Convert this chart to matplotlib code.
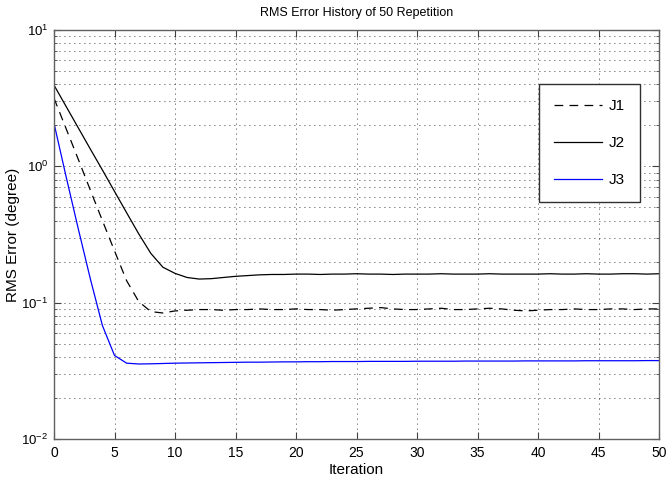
import numpy as np
import matplotlib
matplotlib.use('Agg')
import matplotlib.pyplot as plt
from matplotlib.ticker import LogLocator, NullFormatter

plt.rcParams['font.family'] = ['Liberation Sans', 'DejaVu Sans']
plt.rcParams['mathtext.fontset'] = 'custom'
plt.rcParams['mathtext.rm'] = 'Liberation Sans'

# data (RMS error per iteration)
iteration = list(range(51))
J1 = [3.16, 1.89, 1.13, 0.67, 0.40, 0.24, 0.145, 0.102, 0.086, 0.084,
      0.087, 0.088, 0.089, 0.089, 0.088, 0.089, 0.089, 0.090, 0.089, 0.089,
      0.090, 0.089, 0.089, 0.088, 0.089, 0.090, 0.091, 0.092, 0.090, 0.089,
      0.089, 0.090, 0.091, 0.089, 0.089, 0.090, 0.091, 0.090, 0.088, 0.087,
      0.088, 0.089, 0.089, 0.090, 0.089, 0.089, 0.090, 0.090, 0.089, 0.090,
      0.090]
J2 = [3.94, 2.75, 1.92, 1.34, 0.94, 0.655, 0.457, 0.32, 0.23, 0.182,
      0.164, 0.153, 0.149, 0.150, 0.153, 0.156, 0.158, 0.160, 0.161, 0.161,
      0.162, 0.162, 0.161, 0.162, 0.162, 0.163, 0.162, 0.162, 0.161, 0.162,
      0.162, 0.162, 0.163, 0.162, 0.162, 0.162, 0.163, 0.162, 0.162, 0.162,
      0.162, 0.163, 0.162, 0.162, 0.163, 0.162, 0.162, 0.163, 0.163, 0.162,
      0.163]
J3 = [2.07, 0.84, 0.35, 0.15, 0.068, 0.041, 0.036, 0.0355, 0.0356, 0.0358,
      0.0360, 0.0361, 0.0362, 0.0363, 0.0364, 0.0365, 0.0366, 0.0366, 0.0367, 0.0368,
      0.0368, 0.0369, 0.0369, 0.0370, 0.0370, 0.0370, 0.0371, 0.0371, 0.0371, 0.0371,
      0.0372, 0.0372, 0.0372, 0.0372, 0.0373, 0.0373, 0.0373, 0.0373, 0.0373, 0.0374,
      0.0374, 0.0374, 0.0374, 0.0374, 0.0375, 0.0375, 0.0375, 0.0375, 0.0375, 0.0376,
      0.0376]
xticks = list(range(0, 51, 5))


def main():
    fig = plt.figure(figsize=(6.66, 4.83), dpi=100)
    ax = fig.add_axes([54/666, 44/483, 605/666, 409/483])

    ax.semilogy(iteration, J1, color='black', lw=0.9, linestyle=(0, (7, 5)), label='J1')
    ax.semilogy(iteration, J2, color='black', lw=0.9, label='J2')
    ax.semilogy(iteration, J3, color='#0000ff', lw=0.9, label='J3')

    ax.set_xlim(0, 50)
    ax.set_ylim(1e-2, 1e1)
    ax.set_xticks(xticks)
    ax.yaxis.set_major_locator(LogLocator(base=10, numticks=10))
    ax.yaxis.set_minor_locator(LogLocator(base=10, subs=np.arange(2, 10), numticks=20))
    ax.yaxis.set_minor_formatter(NullFormatter())

    # matlab style grid
    dots = (0, (1, 5))
    ax.grid(True, which='major', axis='both', color='black', lw=0.6, linestyle=dots)
    ax.grid(True, which='minor', axis='y', color='black', lw=0.6, linestyle=dots)

    ax.tick_params(which='both', direction='in', top=True, right=True, colors='#404040',
                   labelcolor='black', labelsize=10)
    ax.tick_params(which='major', length=5, width=0.8, pad=5)
    ax.tick_params(axis='y', which='major', pad=4, labelsize=9.5)
    ax.tick_params(which='minor', length=2.5, width=0.6)
    for s in ax.spines.values():
        s.set_color('#606060')
        s.set_linewidth(1.0)

    ax.set_title('RMS Error History of 50 Repetition', fontsize=9, pad=10)
    ax.set_xlabel('Iteration', fontsize=11, labelpad=2)
    ax.set_ylabel('RMS Error (degree)', fontsize=11)
    ax.yaxis.set_label_coords(-0.057, 0.5)

    leg = ax.legend(loc='upper left', bbox_to_anchor=(0.8017, 0.868),
                    fontsize=11, labelspacing=1.5, borderpad=1.0,
                    handlelength=3.15, handletextpad=0.4, fancybox=False,
                    framealpha=1, borderaxespad=0)
    leg.get_frame().set_edgecolor('#303030')
    leg.get_frame().set_linewidth(1.0)

    fig.savefig('out.png', dpi=100)


if __name__ == '__main__':
    main()
